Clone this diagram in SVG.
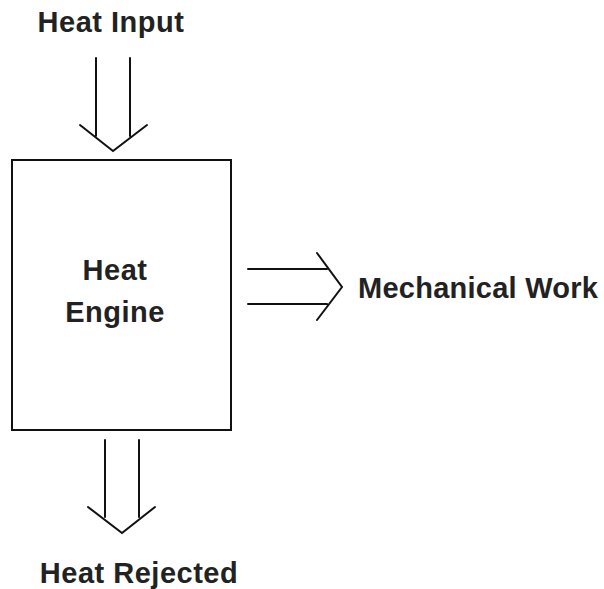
<svg xmlns="http://www.w3.org/2000/svg" width="604" height="589" viewBox="0 0 604 589">
<style>
.ln{fill:none;stroke:#111;stroke-width:2;stroke-linecap:round;stroke-linejoin:miter}
.t{font-family:"Liberation Sans",Arial,sans-serif;font-weight:bold;font-size:29px;letter-spacing:0.5px;fill:#222}
</style>
<rect width="604" height="589" fill="#fff"/>
<g id="engine">
<rect x="12" y="160" width="219" height="270" class="ln"/>
<text class="t" x="115" y="280" text-anchor="middle">Heat</text>
<text class="t" x="115" y="322" text-anchor="middle">Engine</text>
</g>
<g id="heat-input"><text class="t" x="111" y="32" text-anchor="middle">Heat Input</text></g>
<g id="mech-work"><text class="t" x="358" y="298" style="letter-spacing:0.25px">Mechanical Work</text></g>
<g id="heat-rejected"><text class="t" x="139" y="583" text-anchor="middle">Heat Rejected</text></g>
<g id="connectors">
<path class="ln" d="M96 58V136M130 58V136M80 125L113 151L147 125"/>
<path class="ln" d="M248 269H327M248 304H327M317 253L342 287L317 320"/>
<path class="ln" d="M105 440V517M139 440V517M88 507L122 533L155 507"/>
</g>
</svg>
